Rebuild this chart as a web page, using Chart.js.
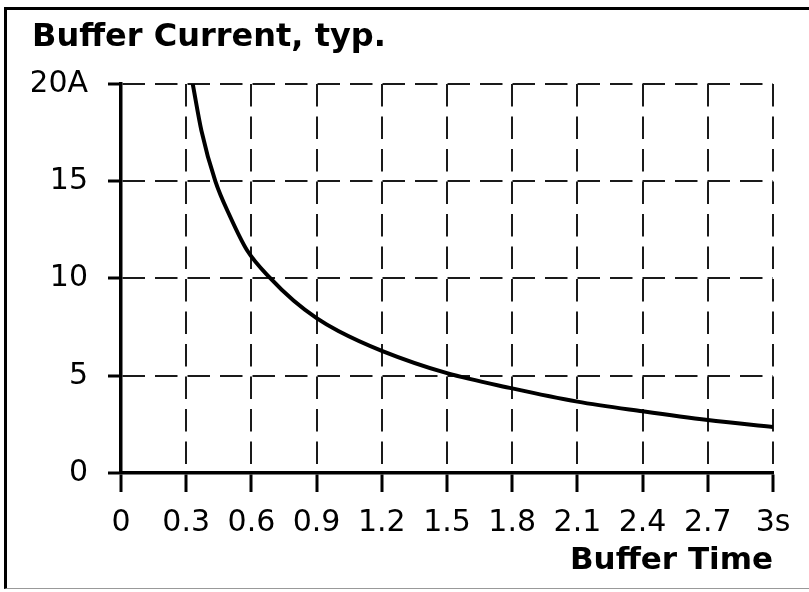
<!DOCTYPE html>
<html>
<head>
<meta charset="utf-8">
<script src="https://cdn.jsdelivr.net/npm/chart.js@4/dist/chart.umd.min.js"></script>
<style>
  html, body { margin: 0; padding: 0; background: #fff; }
  #frame {
    position: absolute; left: 4px; top: 7px; width: 820px; height: 578px;
    border-left: 3px solid #000; border-top: 3px solid #000; border-bottom: 1px solid #999;
  }
  #chart { position: absolute; left: 0; top: 0; }
</style>
</head>
<body>
<div id="frame"></div>
<canvas id="chart" width="809" height="592"></canvas>
<script>
// ============================================================
// Data
// ============================================================

const bufferTime = [0.33, 0.37, 0.434, 0.503, 0.58, 0.688, 0.795, 0.9, 1.0, 1.2, 1.5, 1.8, 2.1, 2.4, 2.7, 3.0];
const bufferCurrent = [20, 17.6, 15, 13.16, 11.45, 10, 8.85, 7.96, 7.3, 6.28, 5.13, 4.35, 3.67, 3.17, 2.72, 2.36];

const xTicks = [0, 0.3, 0.6, 0.9, 1.2, 1.5, 1.8, 2.1, 2.4, 2.7, 3];
const xTickLabels = ['0', '0.3', '0.6', '0.9', '1.2', '1.5', '1.8', '2.1', '2.4', '2.7', '3s'];
const yTicks = [0, 5, 10, 15, 20];
const yTickLabels = ['0', '5', '10', '15', '20A'];

// ============================================================
// Chart
// ============================================================

const FONT = "'DejaVu Sans', Verdana, sans-serif";
const dash = [22.5, 10];

function axis(min, max, ticks, labels, tickLength, padding) {
  return {
    type: 'linear',
    min: min,
    max: max,
    afterBuildTicks: (scale) => { scale.ticks = ticks.map(v => ({ value: v })); },
    ticks: {
      color: '#000',
      padding: padding,
      maxRotation: 0,
      autoSkip: false,
      font: { family: FONT, size: 30, lineHeight: 1 },
      callback: (v) => labels[ticks.indexOf(v)]
    },
    grid: {
      color: '#1a1a1a',
      lineWidth: 2,
      tickColor: '#000',
      tickWidth: 3,
      tickLength: tickLength,
      tickBorderDash: []
    },
    border: { color: '#000', width: 3.5, dash: dash, z: 1 }
  };
}

const xScale = axis(0, 3, xTicks, xTickLabels, 19, 16);
xScale.title = {
  display: true,
  text: 'Buffer Time',
  align: 'end',
  color: '#000',
  font: { family: FONT, size: 31, weight: 'bold', lineHeight: 1 },
  padding: { top: 7, bottom: 0 }
};
xScale.afterFit = (scale) => { scale.height = 103; };
const yScale = axis(0, 20, yTicks, yTickLabels, 13, 20);
yScale.afterFit = (scale) => { scale.width = 89; };

const ctx = document.getElementById('chart').getContext('2d');
new Chart(ctx, {
  type: 'scatter',
  data: {
    datasets: [{
      data: bufferTime.map((t, i) => ({ x: t, y: bufferCurrent[i] })),
      showLine: true,
      borderColor: '#000',
      borderWidth: 4,
      pointRadius: 0,
      cubicInterpolationMode: 'monotone',
      fill: false
    }]
  },
  options: {
    responsive: false,
    animation: false,
    layout: { padding: { left: 32, right: 36, top: 0, bottom: 16 } },
    plugins: {
      legend: { display: false },
      tooltip: { enabled: false },
      title: {
        display: true,
        text: 'Buffer Current, typ.',
        align: 'start',
        color: '#000',
        font: { family: FONT, size: 32, weight: 'bold' },
        padding: { top: 18.5, bottom: 27 }
      }
    },
    scales: { x: xScale, y: yScale }
  }
});
</script>
</body>
</html>
